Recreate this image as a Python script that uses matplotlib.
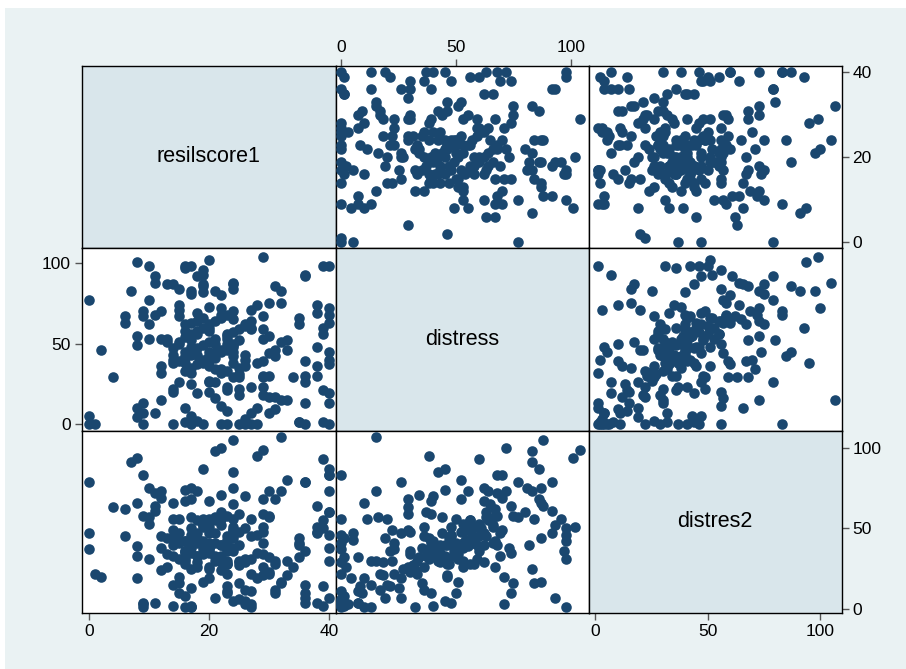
import matplotlib
matplotlib.use('Agg')
import matplotlib.pyplot as plt
from matplotlib.patches import Rectangle

plt.rcParams['font.family'] = ['Liberation Sans', 'DejaVu Sans']

# (resilscore1, distress, distres2)
resil = [0, 1, 14, 19, 22, 23, 25, 27, 28, 36, 40,
         18, 26, 8, 0, 17, 27, 11, 23, 8, 28, 16, 22, 36, 9,
         32, 12, 33, 21, 31, 25, 29, 18, 40, 20, 39, 14, 25, 29, 23, 27,
         17, 36, 15, 20, 21, 29, 4, 25, 24, 34, 36, 29, 30, 17, 23, 22,
         25, 38, 12, 26, 28, 16, 20, 29, 15, 36, 26, 40, 14, 21, 24, 17,
         26, 30, 40, 16, 20, 24, 31, 2, 14, 24, 38, 8, 15, 21, 23, 32,
         33, 17, 10, 12, 13, 30, 8, 18, 23, 20, 29, 27, 39, 20, 10, 16,
         26, 6, 18, 27, 24, 19, 35, 6, 29, 40, 11, 22, 38, 18, 9, 12,
         15, 27, 22, 40, 20, 38, 28, 15, 30, 32, 0, 10, 22, 17, 21, 7,
         32, 17, 15, 19, 31, 24, 14, 13, 19, 24, 11, 18, 36, 19, 39, 16,
         10, 17, 8, 20, 29,
         35, 39, 9, 30, 31, 40, 30, 14, 23, 38, 12, 40, 14, 24, 16, 20,
         31, 14, 23, 33, 17, 13, 23, 29, 39, 16, 27, 35, 40, 9, 15, 40,
         16, 19, 36, 11, 19, 24,
         16, 17, 18, 19, 20, 21, 22, 23, 24, 25, 16, 17, 18, 19, 20, 21,
         22, 23, 24, 15, 18, 19, 20, 21, 22, 23, 24, 25, 26, 17, 18, 19,
         20, 21, 22, 23, 24, 25, 16, 20,
         9, 16, 17, 26, 35]
distress = [0, 0, 0, 0, 0, 0, 0, 0, 0, 0, 0,
            2, 3, 4, 5, 5, 7, 7, 8, 10, 10, 10, 11, 13, 13,
            15, 15, 15, 16, 17, 18, 18, 19, 19, 20, 21, 22, 22, 23, 23, 23,
            25, 26, 26, 26, 26, 29, 29, 29, 29, 29, 30, 30, 30, 32, 33, 34,
            35, 36, 36, 36, 38, 38, 39, 39, 39, 39, 40, 40, 40, 41, 42, 43,
            43, 44, 45, 45, 45, 45, 46, 46, 47, 48, 48, 49, 50, 50, 50, 51,
            52, 52, 53, 53, 53, 55, 55, 56, 56, 58, 59, 59, 60, 60, 62, 62,
            62, 63, 64, 64, 65, 66, 66, 67, 67, 68, 68, 68, 69, 69, 70, 70,
            71, 71, 72, 72, 73, 74, 74, 74, 75, 75, 77, 77, 80, 81, 83, 83,
            83, 83, 84, 86, 86, 87, 87, 87, 87, 88, 92, 92, 93, 96, 98, 98,
            98, 98, 101, 102, 104,
            1, 1, 7, 7, 9, 13, 17, 20, 21, 30, 32, 37, 38, 38, 42, 42,
            42, 43, 46, 46, 48, 51, 53, 53, 56, 58, 60, 62, 63, 67, 67, 98,
            97, 93, 92, 88, 82, 84,
            33, 35, 37, 40, 42, 44, 46, 48, 50, 52, 54, 56, 58, 60, 62, 64,
            45, 47, 49, 51, 43, 38, 36, 34, 32, 55, 57, 59, 61, 63, 47, 49,
            51, 53, 66, 68, 70, 31, 41, 27,
            0, 1, 0, 0, 1]
distres2 = [37, 22, 56, 41, 29, 11, 6, 1, 46, 4, 83,
            26, 3, 19, 47, 43, 11, 4, 14, 66, 19, 1, 56, 15, 1,
            107, 73, 30, 57, 12, 29, 21, 44, 7, 56, 14, 49, 30, 41, 37, 22,
            13, 79, 47, 19, 7, 68, 63, 59, 49, 26, 36, 34, 23, 1, 22, 71,
            16, 51, 45, 12, 95, 31, 67, 59, 41, 10, 70, 38, 2, 33, 85, 35,
            31, 57, 87, 74, 40, 5, 28, 20, 44, 51, 4, 33, 56, 41, 10, 17,
            80, 68, 53, 38, 26, 73, 39, 55, 28, 41, 51, 31, 93, 36, 75, 67,
            29, 45, 73, 56, 65, 51, 41, 62, 26, 83, 72, 40, 47, 33, 83, 69,
            20, 3, 100, 73, 38, 64, 35, 10, 58, 16, 79, 57, 60, 75, 98, 91,
            73, 25, 16, 87, 68, 75, 66, 44, 17, 105, 61, 47, 7, 56, 50, 42,
            31, 1, 94, 51, 99,
            44, 2, 4, 32, 10, 30, 22, 15, 36, 48, 24, 60, 33, 44, 35, 38,
            30, 40, 30, 21, 46, 34, 41, 48, 55, 28, 45, 40, 60, 58, 42, 46,
            36, 52, 79, 64, 40, 56,
            30, 38, 33, 42, 35, 47, 40, 45, 38, 48, 42, 50, 44, 53, 47, 55,
            33, 28, 36, 31, 29, 37, 26, 32, 24, 43, 46, 40, 50, 57, 41, 34,
            39, 30, 52, 58, 49, 27, 36, 25,
            3, 8, 2, 5, 32]

names = ['resilscore1', 'distress', 'distres2']
data = [resil, distress, distres2]
xlims = [(-1.17, 41.1), (-2.6, 107.8), (-3.1, 109.7)]
ylims = [(-1.35, 41.5), (-4.1, 109.5), (-2.5, 110.8)]
ticks = [[0, 20, 40], [0, 50, 100], [0, 50, 100]]

W, H = 906, 669
fig = plt.figure(figsize=(W / 100, H / 100), dpi=100, facecolor='white')
bg = fig.add_axes([0, 0, 1, 1], zorder=-10)
bg.set_xlim(0, W)
bg.set_ylim(H, 0)
bg.axis('off')
bg.add_patch(Rectangle((5, 8), W - 5, H - 8, facecolor='#eaf2f3', edgecolor='none'))

col_edges = [82, 335.5, 588.5, 841.5]
row_edges = [66, 248, 430.5, 613]
navy = '#1a476f'

for i in range(3):      # row -> y variable
    for j in range(3):  # column -> x variable
        x0, x1 = col_edges[j], col_edges[j + 1]
        y0, y1 = row_edges[i], row_edges[i + 1]
        ax = fig.add_axes([x0 / W, 1 - y1 / H, (x1 - x0) / W, (y1 - y0) / H])
        for s in ax.spines.values():
            s.set_color('black')
            s.set_linewidth(1.0)
        ax.set_xlim(xlims[j])
        ax.set_ylim(ylims[i])
        ax.tick_params(length=5, width=1, color='#555555', labelsize=12.5, pad=3)
        ax.set_xticks([])
        ax.set_yticks([])
        if i == j:
            ax.set_facecolor('#d9e6eb')
            ax.text(0.5, 0.5, names[i], transform=ax.transAxes, ha='center',
                    va='center', fontsize=15.5)
        else:
            ax.set_facecolor('white')
            ax.scatter(data[j], data[i], s=58, color=navy, linewidths=0, zorder=3)
        # axis labels alternate around the outside like Stata's graph matrix
        if i == 0 and j == 1:
            ax.set_xticks(ticks[j])
            ax.xaxis.tick_top()
        if i == 2 and j in (0, 2):
            ax.set_xticks(ticks[j])
        if j == 2 and i in (0, 2):
            ax.set_yticks(ticks[i])
            ax.yaxis.tick_right()
        if j == 0 and i == 1:
            ax.set_yticks(ticks[i])

fig.savefig('out.png', dpi=100, facecolor=fig.get_facecolor())
